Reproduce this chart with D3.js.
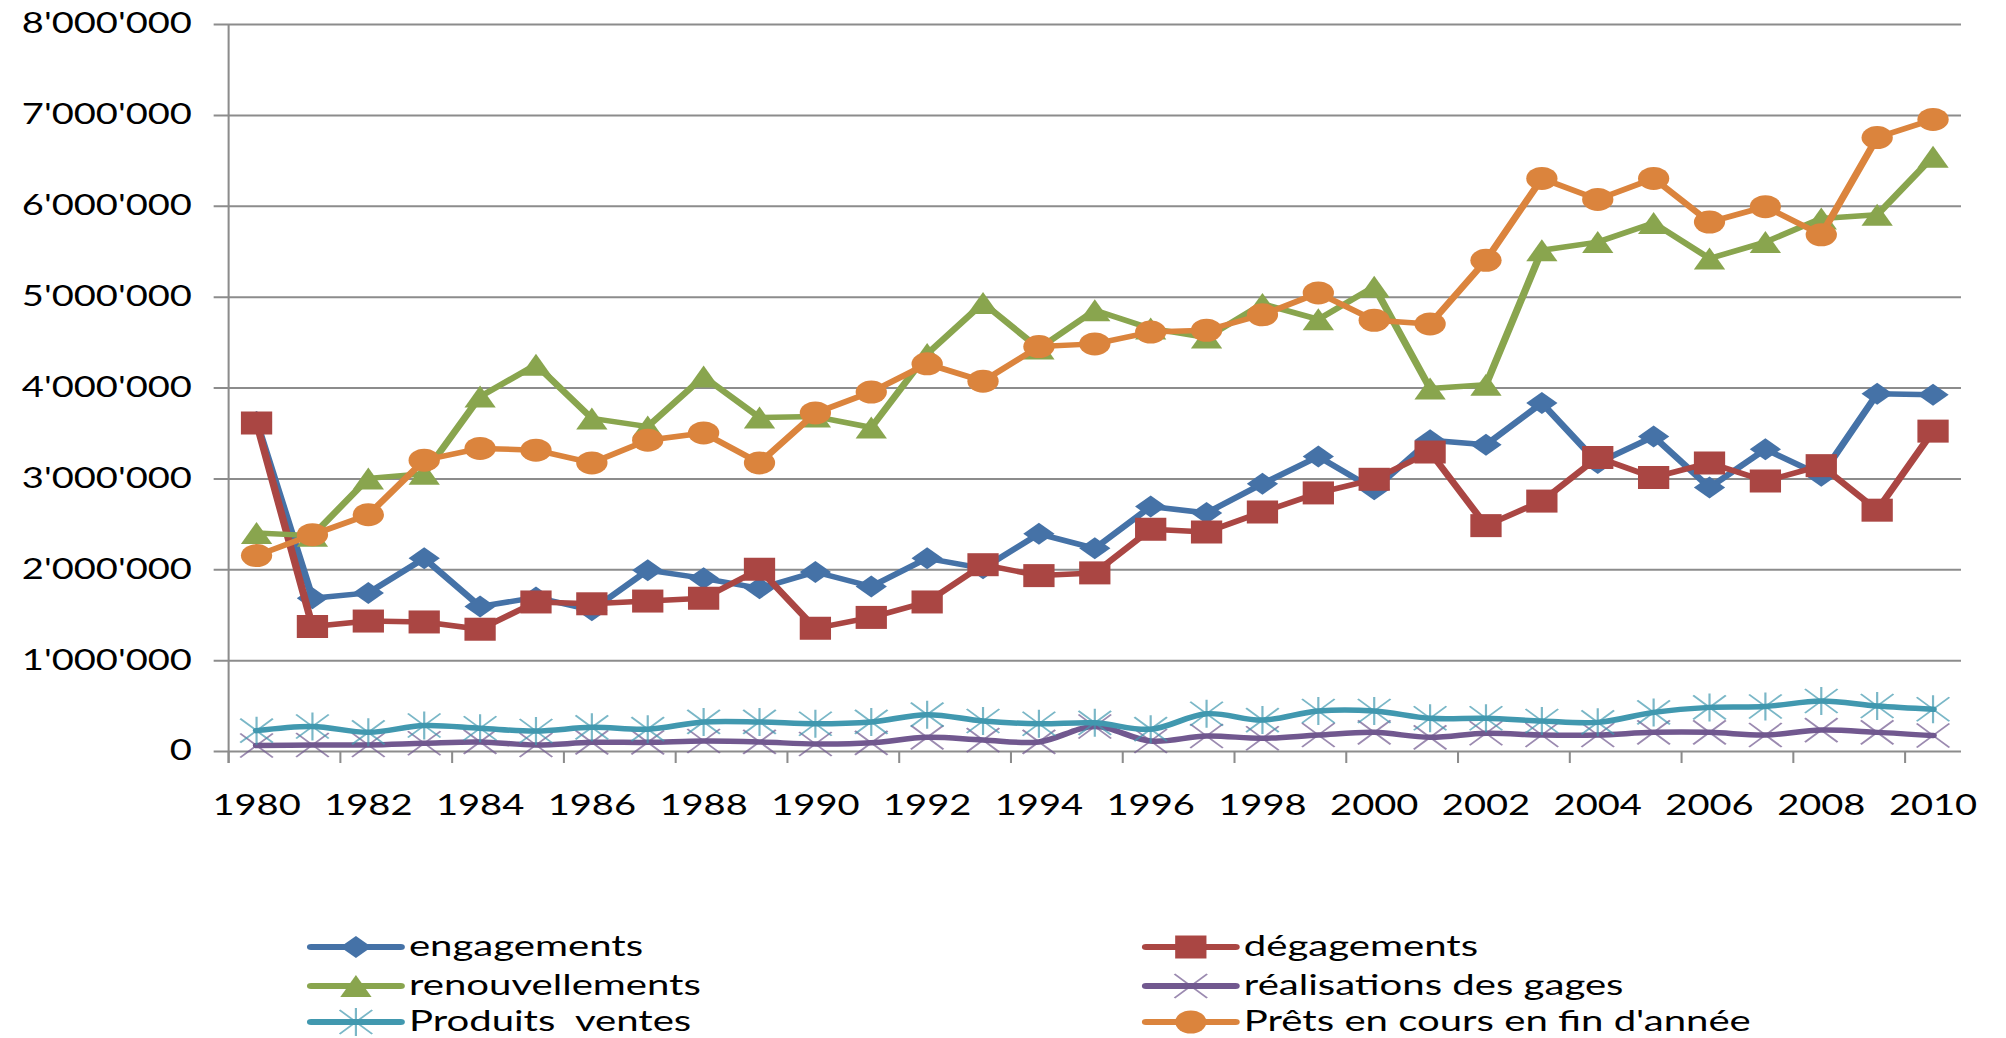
<!DOCTYPE html>
<html>
<head>
<meta charset="utf-8">
<script src="https://cdn.jsdelivr.net/npm/d3@7"></script>
<style>
  body { margin: 0; background: #fff; }
  text { font-family: Lato, 'Open Sans', sans-serif; fill: #000; }
</style>
</head>
<body>
<div id="chart"></div>
<script>
/* global d3 */

// Data
const years = [1980, 1981, 1982, 1983, 1984, 1985, 1986, 1987, 1988, 1989, 1990,
  1991, 1992, 1993, 1994, 1995, 1996, 1997, 1998, 1999, 2000,
  2001, 2002, 2003, 2004, 2005, 2006, 2007, 2008, 2009, 2010]
const labelYears = [1980, 1982, 1984, 1986, 1988, 1990, 1992, 1994, 1996, 1998, 2000, 2002, 2004, 2006, 2008, 2010]
const yTicks = [0, 1000000, 2000000, 3000000, 4000000, 5000000, 6000000, 7000000, 8000000]

const engagements = [3620000, 1680000, 1740000, 2120000, 1590000, 1690000, 1550000, 1990000, 1900000, 1790000, 1970000,
  1810000, 2120000, 2010000, 2390000, 2230000, 2690000, 2620000, 2940000, 3240000, 2880000,
  3420000, 3370000, 3830000, 3170000, 3460000, 2900000, 3320000, 3030000, 3930000, 3920000]
const degagements = [3610000, 1370000, 1430000, 1420000, 1340000, 1640000, 1620000, 1650000, 1680000, 2000000, 1350000,
  1470000, 1640000, 2050000, 1930000, 1960000, 2440000, 2410000, 2630000, 2840000, 2990000,
  3290000, 2480000, 2750000, 3230000, 3010000, 3170000, 2970000, 3140000, 2650000, 3520000]
const renouvellements = [2400000, 2370000, 3000000, 3050000, 3900000, 4250000, 3660000, 3570000, 4120000, 3670000, 3680000,
  3560000, 4370000, 4930000, 4430000, 4850000, 4650000, 4550000, 4920000, 4750000, 5110000,
  3990000, 4030000, 5510000, 5600000, 5810000, 5420000, 5600000, 5860000, 5900000, 6540000]
const realisations = [60000, 66000, 66000, 85000, 100000, 66000, 95000, 95000, 110000, 100000, 77000,
  90000, 150000, 120000, 100000, 270000, 110000, 165000, 140000, 176000, 205000,
  150000, 195000, 176000, 176000, 205000, 205000, 176000, 230000, 205000, 170000]
const produitsVentes = [224000, 270000, 205000, 280000, 250000, 220000, 260000, 240000, 320000, 320000, 300000,
  320000, 400000, 330000, 300000, 310000, 240000, 410000, 340000, 440000, 440000,
  360000, 360000, 330000, 315000, 425000, 480000, 490000, 550000, 495000, 460000]
const prets = [2150000, 2380000, 2600000, 3200000, 3330000, 3310000, 3170000, 3420000, 3500000, 3170000, 3720000,
  3950000, 4260000, 4070000, 4450000, 4480000, 4610000, 4630000, 4800000, 5040000, 4740000,
  4700000, 5400000, 6300000, 6070000, 6300000, 5820000, 5990000, 5680000, 6750000, 6950000]

const seriesNames = ['engagements', 'dégagements', 'renouvellements', 'réalisations des gages',
  'Produits  ventes', "Prêts en cours en fin d'année"]

// Styling
const colors = ['#4572A7', '#AA4643', '#89A54E', '#71588F', '#4198AF', '#DB843D']
const markers = ['diamond', 'square', 'triangle', 'cross', 'star', 'circle']
const series = [engagements, degagements, renouvellements, realisations, produitsVentes, prets]
  .map((values, i) => ({ name: seriesNames[i], values: values, color: colors[i], marker: markers[i], smooth: i === 3 || i === 4 }))

// Our canvas (the original picture is stretched sideways)
const width = 2006,
  height = 1038,
  sx = 1.36
const plotLeft = 168.1,
  plotRight = 1441.9,
  plotTop = 24,
  plotBottom = 751

let svg = d3.select('#chart')
  .append('svg')
  .attr('width', width)
  .attr('height', height)

let root = svg.append('g').attr('transform', `scale(${sx},1)`)

// Scales
let x = d3.scaleBand()
  .domain(years)
  .range([plotLeft, plotRight])
let y = d3.scaleLinear()
  .domain([0, 8000000])
  .range([plotBottom, plotTop])
let cx = d => x(d) + x.bandwidth() / 2

const fmt = d3.formatLocale({ decimal: '.', thousands: "'", grouping: [3], currency: ['', ''] }).format(',d')

// Y axis with gridlines
let yAxis = d3.axisLeft(y)
  .tickValues(yTicks)
  .tickFormat(fmt)
  .tickSizeInner(-(plotRight - plotLeft))
  .tickSizeOuter(0)
  .tickPadding(27)

let yg = root.append('g')
  .attr('transform', `translate(${plotLeft},0)`)
  .call(yAxis)
yg.select('.domain').remove()
yg.selectAll('line').attr('x1', -11).attr('stroke', '#8c8c8c').attr('stroke-width', 2)
yg.selectAll('text').attr('font-size', 28).attr('font-family', null).style('fill', '#000')

// X axis labels
let xAxis = d3.axisBottom(x)
  .tickValues(labelYears)
  .tickSize(0)
  .tickPadding(44)
let xg = root.append('g')
  .attr('transform', `translate(0,${plotBottom})`)
  .call(xAxis)
xg.select('.domain').remove()
xg.selectAll('text').attr('font-size', 28).attr('font-family', null).style('fill', '#000')

// x tick marks between categories
root.append('g')
  .selectAll('line')
  .data(labelYears)
  .enter()
  .append('line')
  .attr('x1', d => x(d))
  .attr('x2', d => x(d))
  .attr('y1', plotBottom)
  .attr('y2', plotBottom + 12)
  .attr('stroke', '#8c8c8c')
  .attr('stroke-width', 1.5)

// vertical axis line
root.append('line')
  .attr('x1', plotLeft).attr('x2', plotLeft)
  .attr('y1', plotTop).attr('y2', plotBottom + 12)
  .attr('stroke', '#8c8c8c')
  .attr('stroke-width', 1.5)

// Markers
let markerPath = (type) => {
  if (type === 'diamond') return 'M0,-11L11.5,0L0,11L-11.5,0Z'
  if (type === 'square') return 'M-11.5,-11.5H11.5V11.5H-11.5Z'
  if (type === 'triangle') return 'M0,-11L11.5,11L-11.5,11Z'
  if (type === 'cross') return 'M-12,-12L12,12M-12,12L12,-12'
  if (type === 'star') return 'M-12,-12L12,12M-12,12L12,-12M0,-14V14'
  return null
}

let drawMarker = (sel, s) => {
  if (s.marker === 'circle') {
    sel.append('circle').attr('r', 11.5).attr('fill', s.color)
  } else if (s.marker === 'cross' || s.marker === 'star') {
    sel.append('path').attr('d', markerPath(s.marker))
      .attr('fill', 'none')
      .attr('stroke', s.color)
      .attr('stroke-opacity', 0.7)
      .attr('stroke-width', 1.6)
  } else {
    sel.append('path').attr('d', markerPath(s.marker)).attr('fill', s.color)
  }
}

// Series
series.forEach(s => {
  let line = d3.line()
    .x((d, i) => cx(years[i]))
    .y(d => y(d))
    .curve(s.smooth ? d3.curveCatmullRom.alpha(0.5) : d3.curveLinear)

  let g = root.append('g')
  g.append('path')
    .datum(s.values)
    .attr('d', line)
    .attr('fill', 'none')
    .attr('stroke', s.color)
    .attr('stroke-width', 5.5)
    .attr('stroke-linejoin', 'round')
    .attr('stroke-linecap', 'round')

  g.selectAll('g.pt')
    .data(s.values)
    .enter()
    .append('g')
    .attr('class', 'pt')
    .attr('transform', (d, i) => `translate(${cx(years[i])},${y(d)})`)
    .each(function () { drawMarker(d3.select(this), s) })
})

// Legend
const legendCols = [228.7, 842.6]
const legendRows = [947, 986, 1022]
let legend = root.append('g')
series.forEach((s, i) => {
  let lx = legendCols[i % 2],
    ly = legendRows[Math.floor(i / 2)]
  let item = legend.append('g').attr('transform', `translate(${lx},${ly})`)
  item.append('line')
    .attr('x1', 0).attr('x2', 66)
    .attr('stroke', s.color)
    .attr('stroke-width', 6)
    .attr('stroke-linecap', 'round')
  drawMarker(item.append('g').attr('transform', 'translate(33,0)'), s)
  item.append('text')
    .attr('x', 72)
    .attr('y', 9)
    .attr('font-size', 29.5)
    .style('white-space', 'pre')
    .text(s.name)
})
</script>
</body>
</html>
